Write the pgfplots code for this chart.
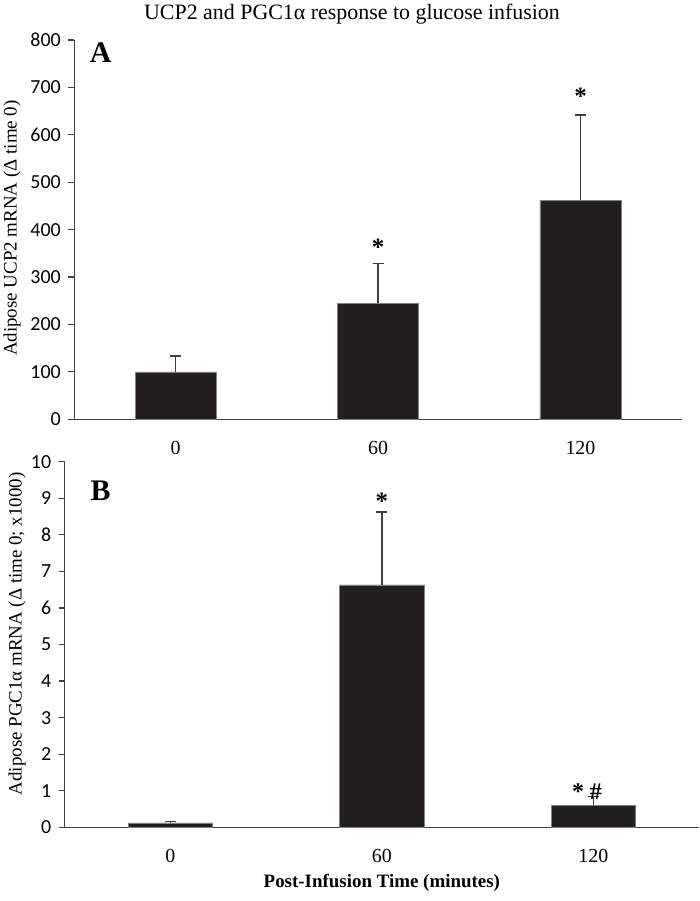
\documentclass[border=0pt]{standalone}
\usepackage{fontspec}
\setmainfont{Liberation Serif}
\newfontfamily\calibri{Carlito}
\usepackage{pgfplots}
\pgfplotsset{compat=1.18}
\definecolor{barfill}{HTML}{231F20}
\definecolor{axgray}{HTML}{404040}
\definecolor{edgegray}{HTML}{808080}
\pgfplotsset{
  mystyle/.style={
    scale only axis,
    axis x line=bottom, axis y line=left,
    axis line style={-, axgray, line width=1.3bp},
    xmin=-0.5, xmax=2.5,
    xtick={0,1,2}, xticklabels={0,60,120},
    x tick style={draw=none},
    y tick style={axgray, line width=1.2bp},
    tick align=outside,
    major tick length=6bp,
    ytick pos=left,
    /pgf/number format/assume math mode=true,
    yticklabel style={font=\calibri\fontsize{20}{20}\selectfont, anchor=east, xshift=-4bp},
    xticklabel style={font=\fontsize{20}{20}\selectfont, anchor=center, yshift=-23bp},
    ylabel style={font=\fontsize{19}{19}\selectfont, anchor=center, rotate=0},
    ybar, bar width=0.4,
    clip=false,
  },
  barstyle/.style={fill=barfill, draw=edgegray, line width=0.6bp,
    error bars/.cd, y dir=plus, y explicit,
    error mark=-,
    error bar style={axgray, line width=1.3bp},
    error mark options={rotate=90, axgray, line width=1.3bp, mark size=5.5bp}},
}
\begin{document}
\begin{tikzpicture}[x=1bp,y=1bp]
\useasboundingbox (0,0) rectangle (700,901);
\fill[white] (0,0) rectangle (700,901);
\node[font=\fontsize{22}{22}\selectfont] at (352,887) {UCP2 and PGC1α response to glucose infusion};
% Top panel A
\begin{axis}[mystyle,
  at={(74.3bp,481.7bp)}, anchor=south west,
  width=607.4bp, height=379.3bp,
  ymin=0, ymax=800, ytick={0,100,...,800},
  ylabel={Adipose UCP2 mRNA (Δ time 0)},
  ylabel style={at={(axis description cs:-0.1026,0.504)}},
]
\addplot[barstyle] coordinates {
  (0,100) +- (0,33.5)
  (1,245) +- (0,84)
  (2,462) +- (0,180)
};
\node[font=\bfseries\fontsize{25}{25}\selectfont] at (axis cs:1,362) {*};
\node[font=\bfseries\fontsize{25}{25}\selectfont] at (axis cs:2,681) {*};
\node[font=\bfseries\fontsize{30}{30}\selectfont] at (axis cs:-0.37,774) {A};
\end{axis}
% Bottom panel B
\begin{axis}[mystyle,
  at={(64.7bp,73.7bp)}, anchor=south west,
  width=634.3bp, height=365.6bp,
  ymin=0, ymax=10, ytick={0,1,...,10},
  ylabel={Adipose PGC1α mRNA (Δ time 0; x1000)},
  ylabel style={at={(axis description cs:-0.075,0.529)}},
  xlabel={Post-Infusion Time (minutes)},
  xlabel style={font=\bfseries\fontsize{19}{19}\selectfont, at={(axis description cs:0.5,-0.152)}, anchor=center},
]
\addplot[barstyle] coordinates {
  (0,0.12) +- (0,0.04)
  (1,6.63) +- (0,1.99)
  (2,0.60) +- (0,0.25)
};
\node[font=\bfseries\fontsize{25}{25}\selectfont] at (axis cs:1,8.93) {*};
\node[font=\bfseries\fontsize{24}{24}\selectfont] at (axis cs:1.97,0.98) {* \#};
\node[font=\bfseries\fontsize{30}{30}\selectfont] at (axis cs:-0.33,9.2) {B};
\end{axis}
\end{tikzpicture}
\end{document}
